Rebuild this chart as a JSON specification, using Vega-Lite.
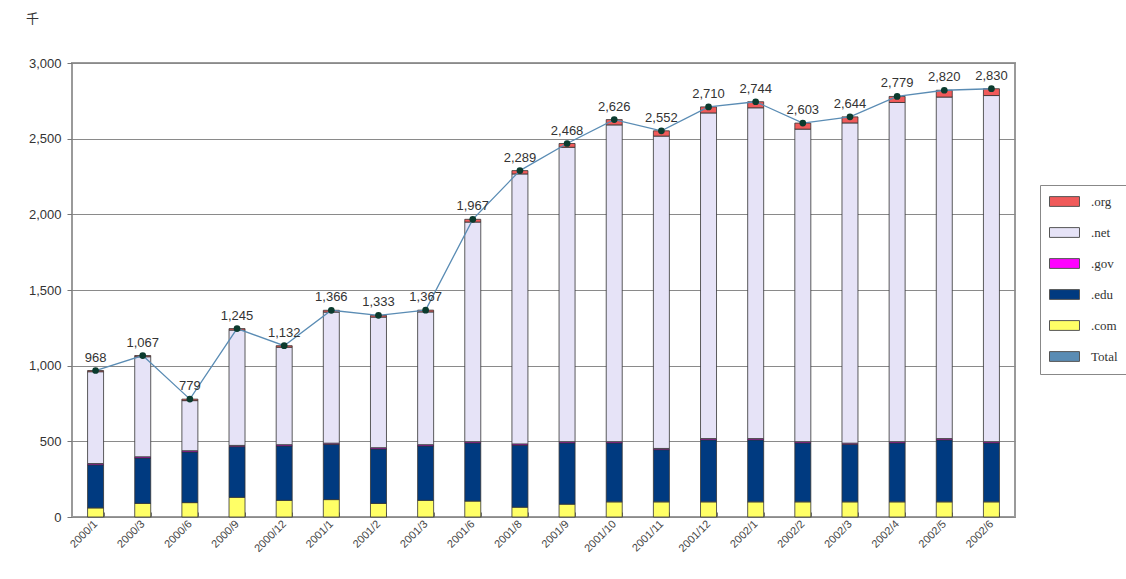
{
  "$schema": "https://vega.github.io/schema/vega-lite/v6.json",
  "width": 943,
  "height": 454,
  "autosize": {"type": "none"},
  "padding": {"left": 72, "top": 63, "right": 111, "bottom": 62},
  "background": "white",
  "config": {
    "view": {"stroke": "#9a9a9a", "strokeWidth": 2},
    "font": "Liberation Sans"
  },
  "data": {
    "values": [
      {"m": "2000/1", "com": 60, "edu": 285, "gov": 8, "net": 607, "org": 8, "Total": 968},
      {"m": "2000/3", "com": 90, "edu": 300, "gov": 8, "net": 661, "org": 8, "Total": 1067},
      {"m": "2000/6", "com": 95, "edu": 335, "gov": 8, "net": 331, "org": 10, "Total": 779},
      {"m": "2000/9", "com": 130, "edu": 335, "gov": 8, "net": 762, "org": 10, "Total": 1245},
      {"m": "2000/12", "com": 110, "edu": 360, "gov": 8, "net": 644, "org": 10, "Total": 1132},
      {"m": "2001/1", "com": 115, "edu": 365, "gov": 8, "net": 866, "org": 12, "Total": 1366},
      {"m": "2001/2", "com": 90, "edu": 360, "gov": 8, "net": 863, "org": 12, "Total": 1333},
      {"m": "2001/3", "com": 110, "edu": 360, "gov": 8, "net": 877, "org": 12, "Total": 1367},
      {"m": "2001/6", "com": 105, "edu": 385, "gov": 8, "net": 1451, "org": 18, "Total": 1967},
      {"m": "2001/8", "com": 65, "edu": 410, "gov": 8, "net": 1784, "org": 22, "Total": 2289},
      {"m": "2001/9", "com": 85, "edu": 405, "gov": 8, "net": 1945, "org": 25, "Total": 2468},
      {"m": "2001/10", "com": 100, "edu": 390, "gov": 8, "net": 2093, "org": 35, "Total": 2626},
      {"m": "2001/11", "com": 100, "edu": 345, "gov": 8, "net": 2064, "org": 35, "Total": 2552},
      {"m": "2001/12", "com": 100, "edu": 410, "gov": 8, "net": 2152, "org": 40, "Total": 2710},
      {"m": "2002/1", "com": 100, "edu": 410, "gov": 8, "net": 2186, "org": 40, "Total": 2744},
      {"m": "2002/2", "com": 100, "edu": 390, "gov": 8, "net": 2065, "org": 40, "Total": 2603},
      {"m": "2002/3", "com": 100, "edu": 380, "gov": 8, "net": 2116, "org": 40, "Total": 2644},
      {"m": "2002/4", "com": 100, "edu": 390, "gov": 8, "net": 2241, "org": 40, "Total": 2779},
      {"m": "2002/5", "com": 100, "edu": 410, "gov": 8, "net": 2257, "org": 45, "Total": 2820},
      {"m": "2002/6", "com": 100, "edu": 390, "gov": 8, "net": 2287, "org": 45, "Total": 2830}
    ]
  },
  "encoding": {
    "x": {
      "field": "m",
      "type": "ordinal",
      "sort": null,
      "scale": {"paddingInner": 0.66, "paddingOuter": 0.33},
      "axis": {
        "title": null,
        "labelAngle": -45,
        "labelAlign": "right",
        "labelBaseline": "middle",
        "labelFontSize": 11,
        "labelColor": "#444",
        "labelPadding": 10,
        "tickBand": "extent",
        "tickSize": -5,
        "tickColor": "#777",
        "domain": false,
        "grid": false
      }
    }
  },
  "layer": [
    {
      "transform": [{"fold": ["com", "edu", "gov", "net", "org"], "as": ["k", "v"]}],
      "mark": {"type": "bar", "stroke": "#333", "strokeWidth": 0.8, "width": 16},
      "encoding": {
        "order": {"field": "k", "sort": "ascending"},
        "y": {
          "field": "v",
          "type": "quantitative",
          "stack": "zero",
          "scale": {"domain": [0, 3000]},
          "axis": {
            "values": [0, 500, 1000, 1500, 2000, 2500, 3000],
            "format": ",.0f",
            "grid": true,
            "gridColor": "#8a8a8a",
            "gridWidth": 1,
            "domain": false,
            "tickSize": 5,
            "tickColor": "#777",
            "labelFontSize": 13,
            "labelColor": "#333",
            "labelPadding": 6,
            "title": "千",
            "titleFont": "Noto Sans CJK JP",
            "titleFontWeight": "normal",
            "titleFontSize": 13,
            "titleAngle": 0,
            "titleX": -40,
            "titleY": -38,
            "titleColor": "#333"
          }
        },
        "color": {
          "field": "k",
          "type": "nominal",
          "scale": {
            "domain": ["org", "net", "gov", "edu", "com", "Total"],
            "range": ["#F05A5A", "#E6E3F7", "#FF00FF", "#003A80", "#FFFF66", "#5A8CB4"]
          },
          "legend": {
            "title": null,
            "orient": "none",
            "legendX": 968,
            "legendY": 122,
            "strokeColor": "#888",
            "padding": 10,
            "labelFont": "Liberation Serif",
            "labelFontSize": 13,
            "labelColor": "#333",
            "labelExpr": "datum.label === 'Total' ? 'Total' : '.' + datum.label",
            "symbolType": "M-2.6,-0.85H2.6V0.85H-2.6Z",
            "symbolSize": 133,
            "symbolOffset": 8,
            "labelOffset": 20,
            "rowPadding": 16,
            "symbolStrokeWidth": 1,
            "symbolStrokeColor": "#555"
          }
        }
      }
    },
    {
      "mark": {"type": "line", "strokeWidth": 1.3, "color": "#5A8CB4"},
      "encoding": {
        "y": {"field": "Total", "type": "quantitative"}
      }
    },
    {
      "mark": {"type": "point", "filled": true, "size": 45, "color": "#0B3B2E", "opacity": 1},
      "encoding": {"y": {"field": "Total", "type": "quantitative"}}
    },
    {
      "mark": {"type": "text", "dy": -13, "fontSize": 13, "color": "#333"},
      "encoding": {
        "y": {"field": "Total", "type": "quantitative"},
        "text": {"field": "Total", "type": "quantitative", "format": ","}
      }
    }
  ]
}
